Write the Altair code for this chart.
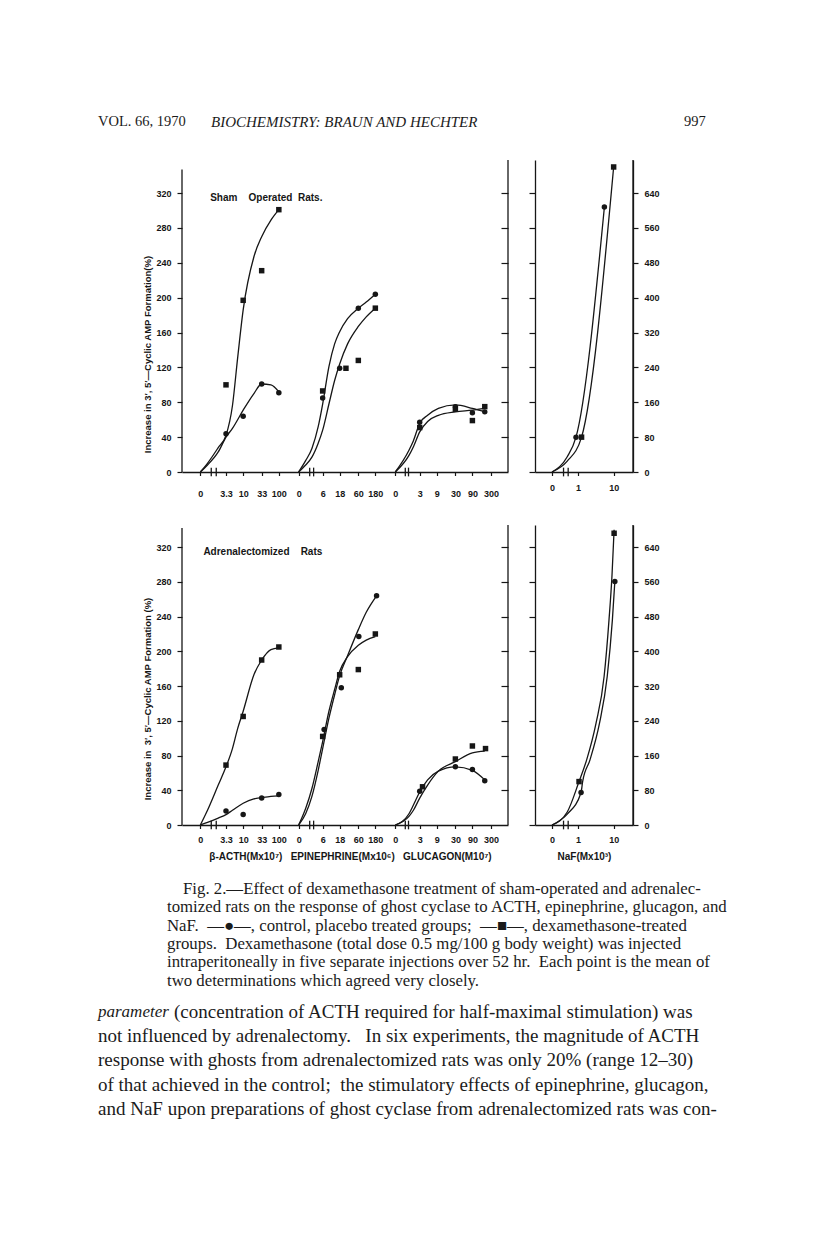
import math
import altair as alt
import pandas as pd

INK = "#161616"
FIG_FONT = "Liberation Sans"
SERIF = "Liberation Serif"
NB = "\u00a0"

# ---------------- x-axis tick labels ----------------
acth_ticks = [0, 3.3, 10, 33, 100]
epi_ticks = [0, 6, 18, 60, 180]
glu_ticks = [0, 3, 9, 30, 90, 300]
naf_ticks = [0, 1, 10]
acth_tick_labels = ["0", "3.3", "10", "33", "100"]
epi_tick_labels = ["0", "6", "18", "60", "180"]
glu_tick_labels = ["0", "3", "9", "30", "90", "300"]
naf_tick_labels = ["0", "1", "10"]

# ---------------- Sham-operated rats: measured points ----------------
sham_acth_conc = [3.3, 10, 33, 100]
sham_acth_ctrl = [44, 64, 101, 91]
sham_acth_dex = [100, 197, 231, 301]
sham_epi_ctrl_conc = [6, 18, 60, 180]
sham_epi_ctrl = [85, 119, 188, 204]
sham_epi_dex_conc = [6, 27, 60, 180]
sham_epi_dex = [93, 119, 128, 188]
sham_glu_conc = [3, 30, 90, 200]
sham_glu_ctrl = [57, 75, 68, 69]
sham_glu_dex = [51, 72, 59, 75]
sham_naf_ctrl_conc = [0.88, 5.5]
sham_naf_ctrl = [80, 608]
sham_naf_dex_conc = [1.26, 10]
sham_naf_dex = [80, 700]

# ---------------- Sham-operated rats: drawn curves ----------------
sham_acth_ctrl_curve_c = [0, 1, 2, 3.3, 5, 10, 20, 33, 60, 100]
sham_acth_ctrl_curve_v = [0, 8, 23, 40, 50, 71, 90, 101, 100, 92]
sham_acth_dex_curve_c = [0, 1, 2, 3.3, 5, 7, 10, 20, 33, 60, 100]
sham_acth_dex_curve_v = [0, 10, 28, 42, 76, 131, 186, 247, 270, 289, 301]
sham_epi_curve_c = [0, 2, 3, 4.5, 6, 9, 13, 18, 30, 60, 100, 180]
sham_epi_ctrl_curve_v = [0, 13, 27, 52, 78, 121, 147, 161, 176, 188, 195, 204]
sham_epi_dex_curve_v = [0, 8, 17, 33, 48, 78, 105, 124, 147, 167, 178, 188]
sham_glu_curve_c = [0, 1.5, 2, 3, 5, 10, 30, 90, 200]
sham_glu_ctrl_curve_v = [0, 25, 36, 56, 65, 73, 77, 73, 69]
sham_glu_dex_curve_v = [0, 19, 29, 46, 58, 65, 69, 71, 73]
sham_naf_ctrl_curve_c = [0, 0.5, 0.88, 5.5]
sham_naf_ctrl_curve_v = [0, 35, 80, 608]
sham_naf_dex_curve_c = [0, 0.5, 1.26, 10]
sham_naf_dex_curve_v = [0, 25, 80, 700]

# ---------------- Adrenalectomized rats: measured points ----------------
adx_acth_conc = [3.3, 10, 33, 100]
adx_acth_ctrl = [16, 12, 31, 35]
adx_acth_dex = [69, 125, 190, 205]
adx_epi_ctrl_conc = [6.6, 20, 62, 195]
adx_epi_ctrl = [110, 158, 217, 264]
adx_epi_dex_conc = [6, 18, 60, 180]
adx_epi_dex = [102, 173, 179, 220]
adx_glu_ctrl_conc = [3, 30, 90, 200]
adx_glu_ctrl = [39, 67, 64, 51]
adx_glu_dex_conc = [3.6, 30, 90, 210]
adx_glu_dex = [44, 76, 91, 88]
adx_naf_ctrl_conc = [1.22, 10.8]
adx_naf_ctrl = [75, 561]
adx_naf_dex_conc = [1.07, 10.3]
adx_naf_dex = [100, 672]

# ---------------- Adrenalectomized rats: drawn curves ----------------
adx_acth_ctrl_curve_c = [0, 1, 2, 3.3, 5, 10, 20, 33, 60, 100]
adx_acth_ctrl_curve_v = [0, 3, 8, 12, 17, 25, 30, 31.5, 33, 33.5]
adx_acth_dex_curve_c = [0, 1, 2, 3.3, 5, 7, 10, 20, 33, 60, 100]
adx_acth_dex_curve_v = [0, 17, 46, 67, 88, 111, 131, 173, 190, 202, 204]
adx_epi_ctrl_curve_c = [0, 2, 3, 4.5, 6, 9, 13, 18, 30, 60, 100, 195]
adx_epi_ctrl_curve_v = [0, 13, 33, 63, 88, 123, 150, 172, 195, 225, 245, 264]
adx_epi_dex_curve_c = [0, 2, 3, 4.5, 6, 9, 13, 18, 30, 60, 100, 180]
adx_epi_dex_curve_v = [0, 19, 42, 73, 96, 131, 156, 177, 194, 207, 213, 217]
adx_glu_curve_c = [0, 1.5, 2, 3, 5, 10, 30, 90, 200]
adx_glu_ctrl_curve_v = [0, 13, 23, 38, 52, 62, 67, 63, 52]
adx_glu_dex_curve_v = [0, 10, 17, 31, 46, 62, 73, 83, 85]
adx_naf_ctrl_curve_c = [0, 0.5, 1.22, 1.35, 2.17, 4.0, 6.6, 9.2, 10.8]
adx_naf_ctrl_curve_v = [0, 25, 75, 100, 150, 234, 342, 472, 561]
adx_naf_dex_curve_c = [0, 0.5, 1.07, 1.75, 3.2, 5.4, 7.4, 9.0, 10.3]
adx_naf_dex_curve_v = [0, 30, 100, 150, 234, 342, 472, 576, 680]

# ---------------- texts ----------------
header_texts = ["VOL. 66, 1970", "BIOCHEMISTRY: BRAUN AND HECHTER", "997"]
panel_titles = {"sham": f"Sham{NB*4}Operated{NB*2}Rats.", "adx": f"Adrenalectomized{NB*4}Rats"}
y_titles = {"sham": "Increase in 3\u2032, 5\u2032\u2014Cyclic AMP Formation(%)",
            "adx": f"Increase in{NB*2}3\u2032, 5\u2032\u2014Cyclic AMP Formation (%)"}
main_x_title = f"\u03b2-ACTH(Mx10\u2077){NB*3}EPINEPHRINE(Mx10\u2076){NB*3}GLUCAGON(M10\u2077)"
naf_x_title = "NaF(Mx10\u00b3)"
caption_lines = [
    "Fig. 2.\u2014Effect of dexamethasone treatment of sham-operated and adrenalec-",
    "tomized rats on the response of ghost cyclase to ACTH, epinephrine, glucagon, and",
    f"NaF.{NB*2}\u2014\u25cf\u2014, control, placebo treated groups;{NB*2}\u2014\u25a0\u2014, dexamethasone-treated",
    f"groups.{NB*2}Dexamethasone (total dose 0.5 mg/100 g body weight) was injected",
    f"intraperitoneally in five separate injections over 52 hr.{NB*2}Each point is the mean of",
    "two determinations which agreed very closely.",
]
body_first_italic = "parameter"
body_lines = [
    "(concentration of ACTH required for half-maximal stimulation) was",
    f"not influenced by adrenalectomy.{NB*3}In six experiments, the magnitude of ACTH",
    "response with ghosts from adrenalectomized rats was only 20% (range 12\u201330)",
    f"of that achieved in the control;{NB*2}the stimulatory effects of epinephrine, glucagon,",
    "and NaF upon preparations of ghost cyclase from adrenalectomized rats was con-",
]

# ---------------- layout constants ----------------
MAIN_W, NAF_W = 326, 98
PX_PER_DEC = 35.67
MAIN_XMAX = MAIN_W / PX_PER_DEC
NAF_XMAX = NAF_W / PX_PER_DEC
SECTIONS = {"acth": (0.715, 0.514), "epi": (3.165, 3.27), "glu": (6.187, 5.98), "naf": (1.205, 0.477)}
BREAKS = {"main": [0.82, 0.96, 3.58, 3.69, 6.26, 6.35], "naf": [0.80, 0.93]}
ROWS = {
    "sham": dict(h=312, ytop=358, left_top=347, naf_top=716, xpad_main=14, xpad_naf=8, title_y=194,
                 label_pos=0.79),
    "adx": dict(h=300, ytop=345.5, left_top=342, naf_top=691, xpad_main=7, xpad_naf=7, title_y=173.5,
                label_pos=0.6),
}


def pos(conc, section):
    off, zero = SECTIONS[section]
    return round(zero if conc == 0 else off + math.log10(conc), 4)


point_series = [
    ("sham", "acth", "ctrl", sham_acth_conc, sham_acth_ctrl),
    ("sham", "acth", "dex", sham_acth_conc, sham_acth_dex),
    ("sham", "epi", "ctrl", sham_epi_ctrl_conc, sham_epi_ctrl),
    ("sham", "epi", "dex", sham_epi_dex_conc, sham_epi_dex),
    ("sham", "glu", "ctrl", sham_glu_conc, sham_glu_ctrl),
    ("sham", "glu", "dex", sham_glu_conc, sham_glu_dex),
    ("sham", "naf", "ctrl", sham_naf_ctrl_conc, sham_naf_ctrl),
    ("sham", "naf", "dex", sham_naf_dex_conc, sham_naf_dex),
    ("adx", "acth", "ctrl", adx_acth_conc, adx_acth_ctrl),
    ("adx", "acth", "dex", adx_acth_conc, adx_acth_dex),
    ("adx", "epi", "ctrl", adx_epi_ctrl_conc, adx_epi_ctrl),
    ("adx", "epi", "dex", adx_epi_dex_conc, adx_epi_dex),
    ("adx", "glu", "ctrl", adx_glu_ctrl_conc, adx_glu_ctrl),
    ("adx", "glu", "dex", adx_glu_dex_conc, adx_glu_dex),
    ("adx", "naf", "ctrl", adx_naf_ctrl_conc, adx_naf_ctrl),
    ("adx", "naf", "dex", adx_naf_dex_conc, adx_naf_dex),
]
curve_series = [
    ("sham", "acth", "ctrl", sham_acth_ctrl_curve_c, sham_acth_ctrl_curve_v),
    ("sham", "acth", "dex", sham_acth_dex_curve_c, sham_acth_dex_curve_v),
    ("sham", "epi", "ctrl", sham_epi_curve_c, sham_epi_ctrl_curve_v),
    ("sham", "epi", "dex", sham_epi_curve_c, sham_epi_dex_curve_v),
    ("sham", "glu", "ctrl", sham_glu_curve_c, sham_glu_ctrl_curve_v),
    ("sham", "glu", "dex", sham_glu_curve_c, sham_glu_dex_curve_v),
    ("sham", "naf", "ctrl", sham_naf_ctrl_curve_c, sham_naf_ctrl_curve_v),
    ("sham", "naf", "dex", sham_naf_dex_curve_c, sham_naf_dex_curve_v),
    ("adx", "acth", "ctrl", adx_acth_ctrl_curve_c, adx_acth_ctrl_curve_v),
    ("adx", "acth", "dex", adx_acth_dex_curve_c, adx_acth_dex_curve_v),
    ("adx", "epi", "ctrl", adx_epi_ctrl_curve_c, adx_epi_ctrl_curve_v),
    ("adx", "epi", "dex", adx_epi_dex_curve_c, adx_epi_dex_curve_v),
    ("adx", "glu", "ctrl", adx_glu_curve_c, adx_glu_ctrl_curve_v),
    ("adx", "glu", "dex", adx_glu_curve_c, adx_glu_dex_curve_v),
    ("adx", "naf", "ctrl", adx_naf_ctrl_curve_c, adx_naf_ctrl_curve_v),
    ("adx", "naf", "dex", adx_naf_dex_curve_c, adx_naf_dex_curve_v),
]

pts = pd.DataFrame([
    dict(row=r, panel="naf" if s == "naf" else "main", grp=g, pos=pos(c, s), value=v)
    for r, s, g, cs, vs in point_series for c, v in zip(cs, vs)
])
crv = pd.DataFrame([
    dict(row=r, panel="naf" if s == "naf" else "main", key=f"{s}-{g}", ord=i, pos=pos(c, s), value=v)
    for r, s, g, cs, vs in curve_series for i, (c, v) in enumerate(zip(cs, vs))
])

main_tick_pos = ([pos(c, "acth") for c in acth_ticks] + [pos(c, "epi") for c in epi_ticks]
                 + [pos(c, "glu") for c in glu_ticks])
main_tick_txt = acth_tick_labels + epi_tick_labels + glu_tick_labels
naf_tick_pos = [pos(c, "naf") for c in naf_ticks]


def label_expr(positions, labels):
    arr_l = ",".join(f"'{l}'" for l in labels)
    arr_p = ",".join(repr(p) for p in positions)
    return f"[{arr_l}][indexof([{arr_p}], datum.value)]"


def ax_common():
    return dict(labelFont=FIG_FONT, labelFontSize=9, labelFontWeight="bold", labelColor=INK,
                tickColor=INK, tickWidth=1.2, domainColor=INK, domainWidth=1.3, grid=False,
                titleFont=FIG_FONT, titleFontWeight="bold", titleColor=INK)


def marks(df_p, df_c, x_enc, y_enc):
    lines = alt.Chart(df_c).mark_line(interpolate="monotone", color=INK, strokeWidth=1.3).encode(
        x=x_enc, y=y_enc, detail="key:N", order="ord:Q")
    circ = alt.Chart(df_p[df_p.grp == "ctrl"]).mark_circle(size=30, color=INK, opacity=1).encode(x=x_enc, y=y_enc)
    sq = alt.Chart(df_p[df_p.grp == "dex"]).mark_square(size=30, color=INK, opacity=1).encode(x=x_enc, y=y_enc)
    return [lines, circ, sq]


def main_panel(row, bottom):
    R = ROWS[row]
    xsc = alt.Scale(domain=[0, MAIN_XMAX], nice=False, zero=False)
    ysc = alt.Scale(domain=[0, R["ytop"]], nice=False, zero=False)
    xa = dict(ax_common(), values=main_tick_pos, labelExpr=label_expr(main_tick_pos, main_tick_txt),
              tickSize=3.5, labelPadding=R["xpad_main"], labelOverlap=False, labelFlush=False)
    if bottom:
        xa.update(title=main_x_title, titleFontSize=10, titlePadding=7, titleX=168)
    else:
        xa.update(title=None)
    ya = dict(ax_common(), values=list(range(0, 321, 40)), tickSize=5, labelPadding=6, domain=False,
              title=y_titles[row], titleFontSize=9.5, titleX=-35, titleY=R["title_y"], titleAngle=270,
              titleAlign="center", titleBaseline="middle")
    x_enc = alt.X("pos:Q", scale=xsc, axis=alt.Axis(**xa))
    y_enc = alt.Y("value:Q", scale=ysc, axis=alt.Axis(**ya))
    dp = pts[(pts.row == row) & (pts.panel == "main")]
    dc = crv[(crv.row == row) & (crv.panel == "main")]
    layers = marks(dp, dc, x_enc, y_enc)
    brk = pd.DataFrame({"pos": BREAKS["main"], "value": -5, "value2": 5})
    layers.append(alt.Chart(brk).mark_rule(color=INK, strokeWidth=1.3).encode(x=x_enc, y=y_enc, y2="value2:Q"))
    laxis = pd.DataFrame({"pos": [0], "value": [0], "value2": [R["left_top"]]})
    layers.append(alt.Chart(laxis).mark_rule(color=INK, strokeWidth=1.3).encode(x=x_enc, y=y_enc, y2="value2:Q"))
    lab = pd.DataFrame({"pos": [R["label_pos"]], "value": [314.5], "txt": [panel_titles[row]]})
    layers.append(alt.Chart(lab).mark_text(align="left", baseline="middle", font=FIG_FONT, fontSize=10,
                                           fontWeight="bold", color=INK).encode(x=x_enc, y=y_enc, text="txt:N"))
    inner = alt.layer(*layers)
    redge = pd.DataFrame({"pos": [MAIN_XMAX], "value": [0], "value2": [R["ytop"]]})
    ra = dict(ax_common(), orient="right", values=list(range(40, 321, 40)), labels=False, domain=False,
              tickSize=7, offset=-7, title=None)
    right = alt.Chart(redge).mark_rule(color=INK, strokeWidth=1.3).encode(
        x=x_enc, y=alt.Y("value:Q", scale=ysc, axis=alt.Axis(**ra)), y2="value2:Q")
    return alt.layer(inner, right).resolve_axis(y="independent").properties(width=MAIN_W, height=R["h"])


def naf_panel(row, bottom):
    R = ROWS[row]
    xsc = alt.Scale(domain=[0, NAF_XMAX], nice=False, zero=False)
    ysc = alt.Scale(domain=[0, R["naf_top"]], nice=False, zero=False)
    xa = dict(ax_common(), values=naf_tick_pos, labelExpr=label_expr(naf_tick_pos, naf_tick_labels),
              tickSize=3.5, labelPadding=R["xpad_naf"], labelOverlap=False, labelFlush=False)
    if bottom:
        xa.update(title=naf_x_title, titleFontSize=10, titlePadding=7)
    else:
        xa.update(title=None)
    ya = dict(ax_common(), values=list(range(0, 641, 80)), labels=False, tickSize=6, title=None)
    x_enc = alt.X("pos:Q", scale=xsc, axis=alt.Axis(**xa))
    y_enc = alt.Y("value:Q", scale=ysc, axis=alt.Axis(**ya))
    dp = pts[(pts.row == row) & (pts.panel == "naf")]
    dc = crv[(crv.row == row) & (crv.panel == "naf")]
    layers = marks(dp, dc, x_enc, y_enc)
    brk = pd.DataFrame({"pos": BREAKS["naf"], "value": -10, "value2": 10})
    layers.append(alt.Chart(brk).mark_rule(color=INK, strokeWidth=1.3).encode(x=x_enc, y=y_enc, y2="value2:Q"))
    inner = alt.layer(*layers)
    redge = pd.DataFrame({"pos": [NAF_XMAX], "value": [0], "value2": [R["naf_top"]]})
    ra = dict(ax_common(), orient="right", values=list(range(0, 641, 80)), tickSize=5, labelPadding=6,
              labelAlign="left", title=None)
    right = alt.Chart(redge).mark_rule(color=INK, strokeWidth=1.3).encode(
        x=x_enc, y=alt.Y("value:Q", scale=ysc, axis=alt.Axis(**ra)), y2="value2:Q")
    return alt.layer(inner, right).resolve_axis(y="independent").properties(width=NAF_W, height=R["h"])


def spacer(w, h):
    return alt.Chart(pd.DataFrame({"a": [0]})).mark_point(opacity=0).encode(
        x=alt.X("a:Q", axis=None), y=alt.Y("a:Q", axis=None)).properties(width=w, height=h)


def fig_row(row, bottom):
    return alt.hconcat(spacer(57, ROWS[row]["h"]), main_panel(row, bottom), naf_panel(row, bottom),
                       spacing=27, bounds="flush")


# ---------------- text blocks ----------------
TEXT_W = 640
TXT = "#1b1b1b"


def text_block(df, height, size, style="normal"):
    return alt.Chart(df).mark_text(align="left", baseline="middle", font=SERIF, fontSize=size,
                                   fontStyle=style, color=TXT).encode(
        x=alt.X("tx:Q", scale=alt.Scale(domain=[0, TEXT_W], nice=False, zero=False), axis=None),
        y=alt.Y("ty:Q", scale=alt.Scale(domain=[height, 0], nice=False, zero=False), axis=None),
        text="line:N")


# page layout (y in page pixels)
HEAD_TOP = 100
HEAD_H = 59
GAP_H = 24.5
ROW2_BOTTOM_EST = 527 + 300 + 3.5 + 7 + 10 + 7 + 10
TEXT_BOTTOM = 1140
CAP_Y0, CAP_DY = 891.5, 18.3
BODY_Y0, BODY_DY = 1014.5, 24.2

head_df = pd.DataFrame({"line": header_texts, "tx": [0, 113, 586], "ty": [22, 22, 22]})
header = alt.layer(
    text_block(head_df.iloc[[0, 2]], HEAD_H, 14.5),
    text_block(head_df.iloc[[1]], HEAD_H, 15, "italic"),
).properties(width=TEXT_W, height=HEAD_H)

TB_H = TEXT_BOTTOM - ROW2_BOTTOM_EST
cap_df = pd.DataFrame({"line": caption_lines,
                       "tx": [85] + [69] * (len(caption_lines) - 1),
                       "ty": [CAP_Y0 - ROW2_BOTTOM_EST + CAP_DY * i for i in range(len(caption_lines))]})
body_df = pd.DataFrame({"line": body_lines,
                        "tx": [76] + [0] * (len(body_lines) - 1),
                        "ty": [BODY_Y0 - ROW2_BOTTOM_EST + BODY_DY * i for i in range(len(body_lines))]})
ital_df = pd.DataFrame({"line": [body_first_italic], "tx": [0], "ty": [BODY_Y0 - ROW2_BOTTOM_EST]})
text_part = alt.layer(
    text_block(cap_df, TB_H, 16.8),
    text_block(body_df, TB_H, 19),
    text_block(ital_df, TB_H, 17, "italic"),
).properties(width=TEXT_W, height=TB_H)

gap = spacer(10, GAP_H)

chart = alt.vconcat(header, fig_row("sham", False), gap, fig_row("adx", True), text_part,
                    spacing=0).properties(
    padding={"left": 90, "top": HEAD_TOP - 8, "right": 5, "bottom": 5},
    background="white",
).configure_view(strokeWidth=0, strokeOpacity=0)

chart.save("out.html", embed_options={"renderer": "svg", "actions": False})
